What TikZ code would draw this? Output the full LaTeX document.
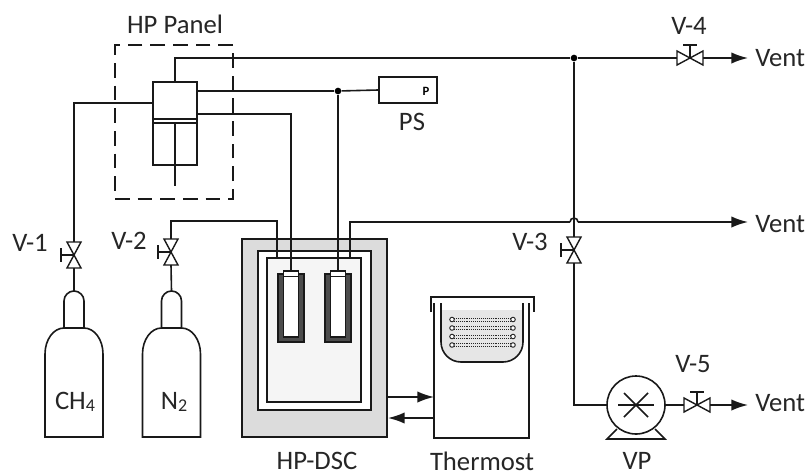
\documentclass[tikz,border=0pt]{standalone}
\usepackage{fontspec}
\setmainfont{Carlito}
\usetikzlibrary{arrows.meta, positioning, calc}
\definecolor{dscgray}{HTML}{DCDCDC}
\definecolor{cellgray}{HTML}{F5F5F5}
\definecolor{bathgray}{HTML}{E6E6E6}
\definecolor{labelgray}{HTML}{262626}
\tikzset{
  valveV/.pic={
    \draw[valveline, fill=white] (-7,-13) -- (7,-13) -- (-7,13) -- (7,13) -- cycle;
    \draw[valveline] (0,0) -- (-13,0);
    \draw[valveline] (-13,-7) -- (-13,7);
    \coordinate (-top) at (0,-13);
    \coordinate (-bot) at (0,13);
  },
  valveH/.pic={
    \draw[valveline, fill=white] (-13,-7) -- (-13,7) -- (13,-7) -- (13,7) -- cycle;
    \draw[valveline] (0,0) -- (0,-13);
    \draw[valveline] (-7,-13) -- (7,-13);
    \coordinate (-in) at (-13,0);
    \coordinate (-out) at (13,0);
  },
}
\begin{document}
\begin{tikzpicture}[
        x=0.75pt, y=-0.75pt,
        line/.style={line width=1.2pt, black!90},
        valveline/.style={line width=1.05pt, black!90},
        arr/.style={line, -{Latex[length=12.5pt, width=8.5pt]}},
        box/.style={draw, line, inner sep=0pt, minimum width=#1},
        tag/.style={font=\fontsize{20}{22}\selectfont, text=labelgray, inner sep=0pt},
        junction/.style={circle, fill=black, inner sep=0pt, minimum size=5pt},
        coil/.style={line width=0.45pt, black!85, densely dotted},
        loopend/.style={circle, draw, line width=0.7pt, black!85, fill=white, inner sep=0pt, minimum size=3.4pt}
    ]
        \useasboundingbox (0,0) rectangle (809,472);

        % HP panel
        \node[draw, line, dash pattern=on 11pt off 6pt, line width=1pt, inner sep=0pt, minimum width=88.5pt, minimum height=115.5pt] (panel) at (174,122) {};
        \node[tag] (panellabel) at (175,24) {HP Panel};
        \node[box=33pt, minimum height=62.25pt] (cyl) at (175,123.5) {};
        \coordinate (cylL) at (153,103);
        \coordinate (cylOne) at (197,91);
        \coordinate (cylTwo) at (197,114);
        \coordinate (rodTop) at (175,123);
        \coordinate (rodEnd) at (175,186);
        \draw[line] (153,119) -- (197,119);
        \draw[line] (153,123) -- (197,123);
        \draw[line] (rodTop) -- (rodEnd);

        % pressure sensor
        \node[box=43.5pt, minimum height=19.5pt] (ps) at (408,90) {};
        \node[font=\fontsize{9.5}{10}\selectfont\bfseries, inner sep=0pt] (pmark) at (426,91) {P};
        \node[tag] (pslabel) at (412,122) {PS};

        % DSC cell
        \node[box=108.75pt, minimum height=148.5pt, fill=dscgray] (dsc) at (314.5,338) {};
        \node[box=84.75pt, minimum height=119.25pt, fill=white] (shell) at (314.5,330.5) {};
        \node[box=70.5pt, minimum height=108pt, fill=cellgray] (cell) at (314,330) {};
        \node[tag] (dsclabel) at (317,461) {HP-DSC};
        \foreach \pos/\name in {291/left, 338/right} {
            \node[box=19.5pt, minimum height=51pt, fill=black!70] (holder\name) at (\pos,308) {};
            \node[box=11pt, minimum height=49.5pt, fill=white] (pan\name) at (\pos,304) {};
            \draw[line] (\pos-7.5,276.5) -- (\pos+7.5,276.5);
        }

        % bath
        \node[tag] (thermolabel) at (482,461) {Thermost};
        \coordinate (bathL) at (441,303);
        \coordinate (bathR) at (523,303);
        \fill[bathgray] (441,310) -- (523,310) -- (523,342) arc[start angle=0, end angle=90, radius=20] -- (461,362) arc[start angle=90, end angle=180, radius=20] -- cycle;
        \draw[line] (434,303) -- (434,438) -- (529,438) -- (529,303);
        \draw[line] (431,312) -- (431,297) -- (534,297) -- (534,312);
        \draw[line] (bathL) -- (441,342) arc[start angle=180, end angle=90, radius=20] -- (503,362) arc[start angle=90, end angle=0, radius=20] -- (bathR);
        \foreach \y [count=\i] in {319.5,328,336.5,345} {
            \draw[coil] (452,\y-1.5) -- (513,\y-1.5);
            \draw[coil] (452,\y+1.5) -- (513,\y+1.5);
            \node[loopend] (coilL\i) at (452,\y) {};
            \node[loopend] (coilR\i) at (513,\y) {};
        }
        \coordinate (bathIn) at (434,397);
        \coordinate (bathOut) at (434,418);
        \coordinate (dscOut) at (387,397);
        \coordinate (dscIn) at (388,418);
        \draw[arr] (dscOut) -- (bathIn);
        \draw[arr] (bathOut) -- (dscIn);

        % cylinders
        \foreach \cx/\name in {74/one, 171.5/two} {
            \draw[line] (\cx-29,437) -- (\cx-29,354) arc[start angle=180, end angle=270, x radius=19, y radius=26] -- (\cx+10,328) arc[start angle=270, end angle=360, x radius=19, y radius=26] -- (\cx+29,437) -- cycle;
            \draw[line] (\cx-10,328) -- (\cx-10,301) arc[start angle=180, end angle=360, radius=10] -- (\cx+10,328);
            \coordinate (neck\name) at (\cx,291);
        }
        \node[tag] (chlabel) at (75,402) {CH{\fontsize{13.5}{14}\selectfont\raisebox{-1.5pt}{4}}};
        \node[tag] (ntwolabel) at (174,402) {N{\fontsize{13.5}{14}\selectfont\raisebox{-1.5pt}{2}}};

        % valves
        \pic (vone) at (74,255) {valveV};
        \pic (vtwo) at (171,252) {valveV};
        \pic (vthree) at (574,250) {valveV};
        \pic (vfour) at (690,58) {valveH};
        \pic (vfive) at (697,405) {valveH};
        \node[tag] (vonelabel) at (30,243) {V-1};
        \node[tag] (vtwolabel) at (129,241) {V-2};
        \node[tag] (vthreelabel) at (530,242) {V-3};
        \node[tag] (vfourlabel) at (689,26) {V-4};
        \node[tag] (vfivelabel) at (693,364) {V-5};

        % pump
        \node[circle, draw, line, inner sep=0pt, minimum size=43.5pt] (vp) at (636,405) {};
        \draw[line] (618,405) -- (654,405);
        \draw[line] (624,393) -- (648,417);
        \draw[line] (648,393) -- (624,417);
        \draw[line] (617,429) -- (607,439) -- (665,439) -- (655,429);
        \node[tag] (vplabel) at (637,461) {VP};

        % vents
        \node[tag, anchor=west] (ventA) at (755,58) {Vent};
        \node[tag, anchor=west] (ventB) at (755,224) {Vent};
        \node[tag, anchor=west] (ventC) at (755,403) {Vent};
        \coordinate (ventAend) at (748,58);
        \coordinate (ventBend) at (748,222);
        \coordinate (ventCend) at (748,405);

        % junctions
        \node[junction] (jtop) at (574,58) {};
        \node[junction] (jps) at (338,91) {};

        % piping
        \draw[line] (cyl.north) |- (jtop);
        \draw[line] (jtop) -- (vfour-in);
        \draw[arr] (vfour-out) -- (ventAend);
        \draw[line] (cylL) -- (74,103) -- (vone-top);
        \draw[line] (vone-bot) -- (neckone);
        \draw[line] (vtwo-bot) -- (necktwo);
        \draw[line] (vtwo-top) -- (171,221) -| (277,258);
        \draw[line] (cylOne) -- (jps);
        \draw[line] (jps) -- (ps.west);
        \draw[line] (jps) -- (338,271);
        \draw[line] (cylTwo) -| (291,271);
        \draw[line] (350,258) |- (570,222);
        \draw[line] (jtop) -- (vthree-top);
        \draw[line] (570,222) arc[start angle=180, end angle=360, radius=4];
        \draw[arr] (578,222) -- (ventBend);
        \draw[line] (vthree-bot) |- (vp.west);
        \draw[line] (vp.east) -- (vfive-in);
        \draw[arr] (vfive-out) -- (ventCend);
    \end{tikzpicture}
\end{document}
